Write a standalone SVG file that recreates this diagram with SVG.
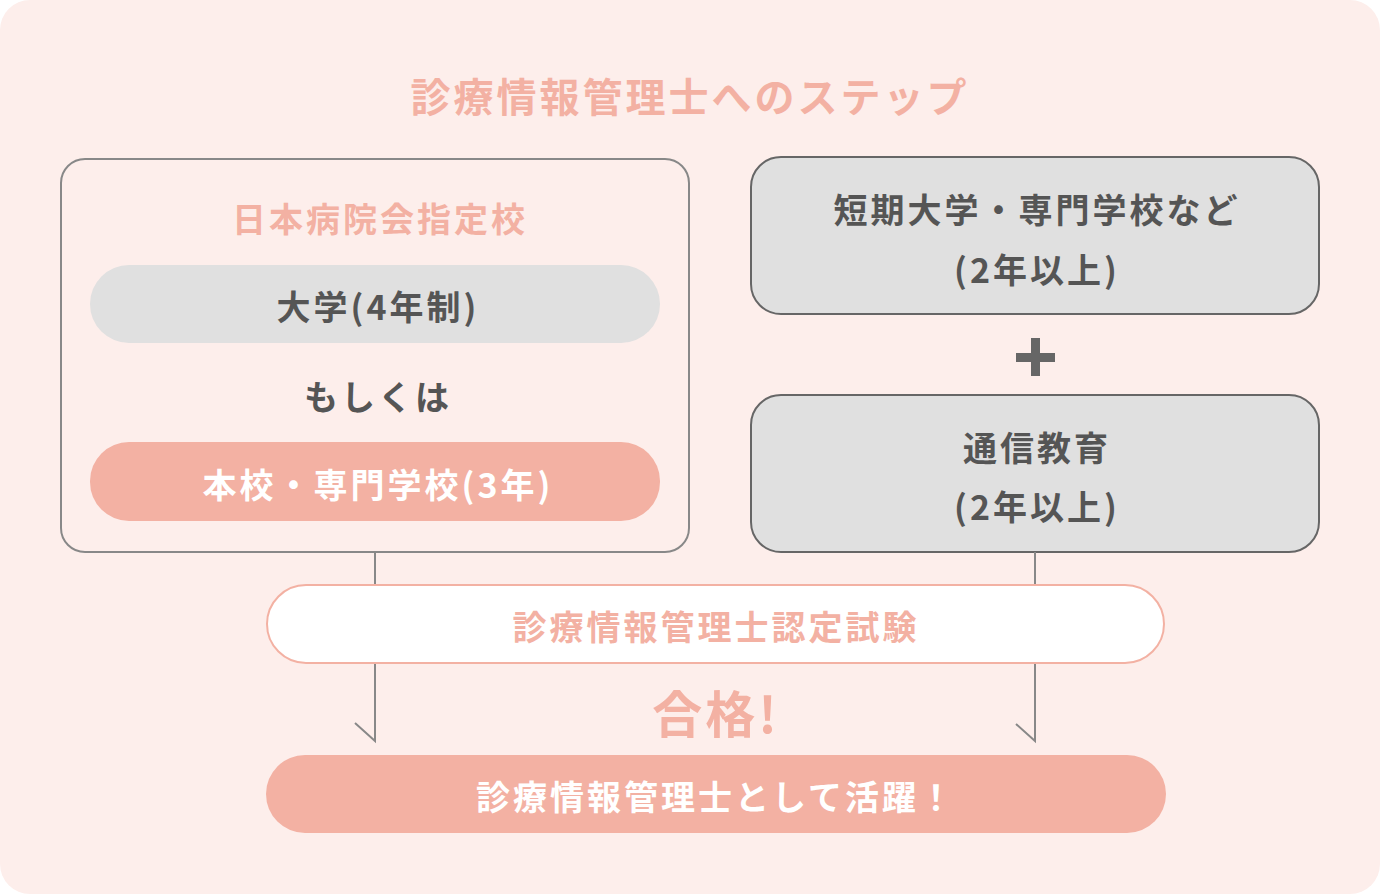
<svg xmlns="http://www.w3.org/2000/svg" width="1380" height="894" viewBox="0 0 1380 894">
<style>
text{font-family:"Noto Sans CJK JP","Noto Sans",sans-serif;font-weight:bold;text-anchor:middle;letter-spacing:3px}
.g{fill:#555}.p{fill:#f3b1a3}.w{fill:#fff}
.con{stroke:#888;stroke-width:2;fill:none}
</style>
<rect x="0" y="0" width="1380" height="894" rx="30" fill="#fdeeeb"/>
<text x="690" y="112" class="p" font-size="40">診療情報管理士へのステップ</text>
<g id="left">
<rect x="61" y="159" width="628" height="393" rx="24" fill="#fdeeeb" stroke="#888" stroke-width="2"/>
<text x="380" y="232" class="p" font-size="34">日本病院会指定校</text>
</g>
<g id="univ"><rect x="90" y="265" width="570" height="78" rx="39" fill="#e0e0e0"/>
<text x="378" y="320" class="g" font-size="34">大学(4年制)</text></g>
<g id="or"><text x="378" y="410" class="g" font-size="34">もしくは</text></g>
<g id="school"><rect x="90" y="442" width="570" height="79" rx="39" fill="#f3b1a3"/>
<text x="378" y="498" class="w" font-size="34">本校・専門学校(3年)</text></g>
<g id="junior"><rect x="751" y="157" width="568" height="157" rx="30" fill="#e0e0e0" stroke="#666" stroke-width="2"/>
<text x="1037" y="223" class="g" font-size="34">短期大学・専門学校など</text>
<text x="1037" y="283" class="g" font-size="34">(2年以上)</text></g>
<g id="plus"><rect x="1031" y="338" width="9" height="38" fill="#666"/><rect x="1016" y="353" width="39" height="9" fill="#666"/></g>
<g id="corr"><rect x="751" y="395" width="568" height="157" rx="30" fill="#e0e0e0" stroke="#666" stroke-width="2"/>
<text x="1037" y="461" class="g" font-size="34">通信教育</text>
<text x="1037" y="520" class="g" font-size="34">(2年以上)</text></g>
<g id="connectors">
<path class="con" d="M375 552V585M375 663V741L355 723M1035 552V585M1035 663V741L1016 724"/>
</g>
<g id="exam"><rect x="267" y="585" width="897" height="78" rx="39" fill="#fff" stroke="#f3b1a3" stroke-width="2"/>
<text x="716" y="640" class="p" font-size="34">診療情報管理士認定試験</text></g>
<g id="pass"><text x="716" y="733" class="p" font-size="50">合格!</text></g>
<g id="final"><rect x="266" y="755" width="900" height="78" rx="39" fill="#f3b1a3"/>
<text x="716" y="810" class="w" font-size="34">診療情報管理士として活躍！</text></g>
</svg>
